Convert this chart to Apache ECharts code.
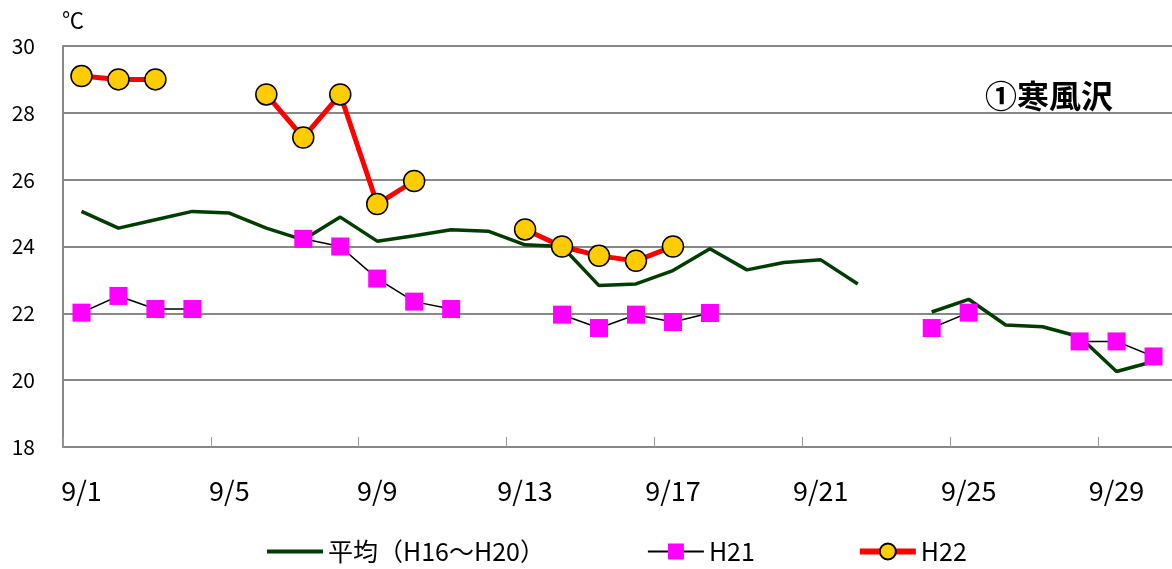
<!DOCTYPE html>
<html>
<head>
<meta charset="utf-8">
<script src="https://cdn.jsdelivr.net/npm/echarts@6/dist/echarts.min.js"></script>
<style>
  html, body { margin: 0; padding: 0; background: #fff; }
  #chart { width: 1172px; height: 569px; }
</style>
</head>
<body>
<div id="chart"></div>
<script>
// 9/1 ～ 9/30
const days = []
for (let d = 1; d <= 30; d++) days.push('9/' + d)

const yTicks = [18, 20, 22, 24, 26, 28, 30]

// 平均（H16～H20）
const avg = [
  25.05, 24.55, 24.8, 25.05, 25.0, 24.55, 24.2, 24.88, 24.16, 24.32,
  24.5, 24.46, 24.05, 24.0, 22.83, 22.88, 23.28, 23.93, 23.3, 23.52,
  23.6, 22.88, null, 22.04, 22.42, 21.65, 21.6, 21.3, 20.26, 20.56
]

// H21
const h21 = [
  22.02, 22.52, 22.13, 22.13, null, null, 24.23, 24.0, 23.04, 22.35,
  22.13, null, null, 21.96, 21.56, 21.96, 21.74, 22.01, null, null,
  null, null, null, 21.56, 22.02, null, null, 21.16, 21.16, 20.71
]

// H22
const h22 = [
  29.1, 29.0, 29.0, null, null, 28.55, 27.26, 28.55, 25.27, 25.96,
  null, null, 24.51, 24.0, 23.72, 23.57, 24.0, null, null, null,
  null, null, null, null, null, null, null, null, null, null
]

const FONT = '"Noto Sans CJK JP", "Noto Sans", sans-serif'

const chart = echarts.init(document.getElementById('chart'))
chart.setOption({
  animation: false,
  backgroundColor: '#fff',
  textStyle: { fontFamily: FONT, color: '#000' },
  grid: { left: 63, right: -2, top: 46, bottom: 122 },
  graphic: [
    { type: 'text', left: 62, top: 9, style: { text: '℃', fontSize: 22, fontFamily: FONT, fill: '#000' } },
    { type: 'text', left: 985, top: 80, style: { text: '①寒風沢', fontSize: 32, fontWeight: 'bold', fontFamily: FONT, fill: '#000' } }
  ],
  legend: {
    bottom: 0,
    left: 262,
    itemGap: 102,
    itemWidth: 56,
    itemHeight: 20,
    textStyle: { fontSize: 25, color: '#000', fontFamily: FONT },
    data: [
      { name: '平均（H16～H20）', icon: 'path://M0,0L14,0L14,1L0,1Z' },
      { name: 'H21', lineStyle: { width: 2 } },
      { name: 'H22', lineStyle: { width: 6 } }
    ]
  },
  xAxis: {
    type: 'category',
    data: days,
    boundaryGap: true,
    axisLine: { lineStyle: { color: '#888', width: 2 } },
    axisTick: { show: true, inside: true, length: 10, interval: 3, lineStyle: { color: '#999', width: 1 } },
    axisLabel: { interval: 3, color: '#000', fontSize: 27, margin: 30, fontFamily: FONT }
  },
  yAxis: {
    type: 'value',
    min: yTicks[0],
    max: yTicks[yTicks.length - 1],
    interval: 2,
    axisLine: { show: true, lineStyle: { color: '#888', width: 2 } },
    axisTick: { show: false },
    axisLabel: { color: '#000', fontSize: 21, margin: 28, fontFamily: FONT },
    splitLine: { lineStyle: { color: '#888', width: 2 } }
  },
  series: [
    {
      name: '平均（H16～H20）',
      type: 'line',
      data: avg,
      connectNulls: false,
      symbol: 'none',
      color: '#003d00',
      lineStyle: { color: '#003d00', width: 3.5 },
      z: 2
    },
    {
      name: 'H21',
      type: 'line',
      data: h21,
      connectNulls: false,
      symbol: 'rect',
      symbolSize: 18,
      color: '#ff00ff',
      itemStyle: { color: '#ff00ff' },
      lineStyle: { color: '#000', width: 1.5 },
      z: 3
    },
    {
      name: 'H22',
      type: 'line',
      data: h22,
      connectNulls: false,
      symbol: 'circle',
      symbolSize: 21,
      color: '#ffcc00',
      itemStyle: { color: '#ffcc00', borderColor: '#000', borderWidth: 1.5 },
      lineStyle: { color: '#ff0000', width: 5 },
      z: 4
    }
  ]
})
</script>
</body>
</html>
